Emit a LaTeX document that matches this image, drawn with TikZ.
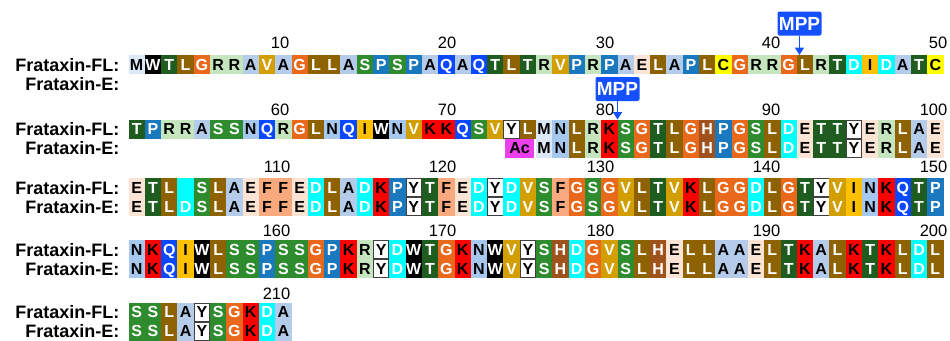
\documentclass[tikz,border=0pt]{standalone}
\usepackage{fontspec}
\setmainfont{Liberation Sans}
\usetikzlibrary{arrows.meta}
\newcommand\defres[3]{\definecolor{bg#1}{HTML}{#2}\colorlet{fg#1}{#3}\colorlet{dr#1}{bg#1}}
\defres{M}{DCE8F6}{black}
\defres{W}{000000}{white}
\defres{T}{1F5C1F}{white}
\defres{L}{8E6200}{white}
\defres{G}{E8681C}{white}
\defres{R}{C5E5BE}{black}
\defres{A}{B5CBEA}{black}
\defres{V}{D29E00}{white}
\defres{S}{2E8B2E}{white}
\defres{P}{1A78BE}{white}
\defres{Q}{0A48FF}{white}
\defres{E}{FCE4D4}{black}
\defres{C}{FFFF00}{black}
\defres{D}{00FFFF}{white}
\defres{I}{FFC000}{black}
\defres{N}{A6C8EE}{black}
\defres{K}{FF0000}{black}
\defres{Y}{FFFFFF}{black}
\colorlet{drY}{black!75}
\defres{F}{F8A97E}{black}
\defres{H}{A0521D}{white}
\definecolor{mppblue}{HTML}{1450FF}
\definecolor{acmag}{HTML}{EE3FEE}
\tikzset{
  res/.style={minimum width=15.4pt, minimum height=18.1pt, inner sep=0pt, outer sep=0pt,
    line width=0.9pt, text height=11.5pt, text depth=0pt,
    font=\bfseries\fontsize{16}{16}\selectfont},
  lbl/.style={anchor=east, inner sep=0pt, text height=13pt, text depth=0pt,
    font=\bfseries\fontsize{18}{18}\selectfont},
  num/.style={anchor=east, inner sep=0pt, font=\fontsize{16.5}{16.5}\selectfont},
  mppbox/.style={fill=mppblue, text=white, rounded corners=2pt, minimum width=44pt,
    minimum height=24pt, inner sep=0pt, font=\bfseries\fontsize{19}{19}\selectfont},
  mpparrow/.style={draw=mppblue, line width=1.8pt, -{Triangle[width=9pt,length=7.5pt]}},
  acbox/.style={fill=acmag, text=black, minimum width=29pt, minimum height=19pt, inner sep=0pt,
    text height=11.5pt, text depth=0pt, font=\bfseries\fontsize{16}{16}\selectfont}
}
\newcommand\seqrow[4]{%
  \foreach \c [count=\i from #3] in {#4} {%
    \node[res, fill=bg\c, draw=dr\c, text=fg\c] (#1-\i) at ({128.5+16.3*(\i+0.5)},#2) {\c};}}
\newcommand\numlabel[4]{\node[num] (#1) at ({128.5+16.3*(#2+1)+#4},#3) {#1};}
\begin{document}
\begin{tikzpicture}[x=1pt,y=-1pt]
\useasboundingbox (0,0) rectangle (950,340);
% row 1
\seqrow{fa}{64.5}{0}{M,W,T,L,G,R,R,A,V,A,G,L,L,A,S,P,S,P,A,Q,A,Q,T,L,T,R,V,P,R,P,A,E,L,A,P,L,C,G,R,R,G,L,R,T,D,I,D,A,T,C}
\node[lbl] (lfa) at (119.5,64.5) {Frataxin-FL:};
\node[lbl] (lea) at (119.5,83.5) {Frataxin-E:};
\numlabel{10}{9}{43}{-2}
\numlabel{20}{19}{43}{2}
\numlabel{30}{29}{43}{-3}
\numlabel{40}{39}{43}{0}
\numlabel{50}{49}{43}{4}
\node[mppbox] (mpp1) at (799.5,23.5) {MPP};
\coordinate (cut1) at (799.5,55);
\draw[mpparrow] (mpp1.south) -- (cut1);
% row 2
\seqrow{fb}{129}{0}{T,P,R,R,A,S,S,N,Q,R,G,L,N,Q,I,W,N,V,K,K,Q,S,V,Y,L,M,N,L,R,K,S,G,T,L,G,H,P,G,S,L,D,E,T,T,Y,E,R,L,A,E}
\seqrow{eb}{148}{25}{M,N,L,R,K,S,G,T,L,G,H,P,G,S,L,D,E,T,T,Y,E,R,L,A,E}
\node[acbox] (ac) at (519.5,148) {Ac};
\node[lbl] (lfb) at (119.5,129) {Frataxin-FL:};
\node[lbl] (leb) at (119.5,148) {Frataxin-E:};
\numlabel{60}{9}{110}{-2}
\numlabel{70}{19}{110}{2}
\numlabel{80}{29}{110}{-3}
\numlabel{90}{39}{110}{0}
\numlabel{100}{49}{110}{4}
\node[mppbox] (mpp2) at (617.5,89) {MPP};
\coordinate (cut2) at (617.5,119.5);
\draw[mpparrow] (mpp2.south) -- (cut2);
% row 3
\seqrow{fc}{187.5}{0}{E,T,L,D,S,L,A,E,F,F,E,D,L,A,D,K,P,Y,T,F,E,D,Y,D,V,S,F,G,S,G,V,L,T,V,K,L,G,G,D,L,G,T,Y,V,I,N,K,Q,T,P}
\node[res, fill=bgD, draw=bgD] (blank) at (fc-3) {};
\seqrow{ec}{206.5}{0}{E,T,L,D,S,L,A,E,F,F,E,D,L,A,D,K,P,Y,T,F,E,D,Y,D,V,S,F,G,S,G,V,L,T,V,K,L,G,G,D,L,G,T,Y,V,I,N,K,Q,T,P}
\node[lbl] (lfc) at (119.5,187.5) {Frataxin-FL:};
\node[lbl] (lec) at (119.5,206.5) {Frataxin-E:};
\numlabel{110}{9}{167}{-1}
\numlabel{120}{19}{167}{2}
\numlabel{130}{29}{167}{-3}
\numlabel{140}{39}{167}{0}
\numlabel{150}{49}{167}{4}
% row 4
\seqrow{fd}{249.5}{0}{N,K,Q,I,W,L,S,S,P,S,S,G,P,K,R,Y,D,W,T,G,K,N,W,V,Y,S,H,D,G,V,S,L,H,E,L,L,A,A,E,L,T,K,A,L,K,T,K,L,D,L}
\seqrow{ed}{268.5}{0}{N,K,Q,I,W,L,S,S,P,S,S,G,P,K,R,Y,D,W,T,G,K,N,W,V,Y,S,H,D,G,V,S,L,H,E,L,L,A,A,E,L,T,K,A,L,K,T,K,L,D,L}
\node[lbl] (lfd) at (119.5,249.5) {Frataxin-FL:};
\node[lbl] (led) at (119.5,268.5) {Frataxin-E:};
\numlabel{160}{9}{231}{-1}
\numlabel{170}{19}{231}{2}
\numlabel{180}{29}{231}{-3}
\numlabel{190}{39}{231}{0}
\numlabel{200}{49}{231}{4}
% row 5
\seqrow{fe}{312}{0}{S,S,L,A,Y,S,G,K,D,A}
\seqrow{ee}{331}{0}{S,S,L,A,Y,S,G,K,D,A}
\node[lbl] (lfe) at (119.5,312) {Frataxin-FL:};
\node[lbl] (lee) at (119.5,331) {Frataxin-E:};
\numlabel{210}{9}{294}{-1}
\end{tikzpicture}
\end{document}
